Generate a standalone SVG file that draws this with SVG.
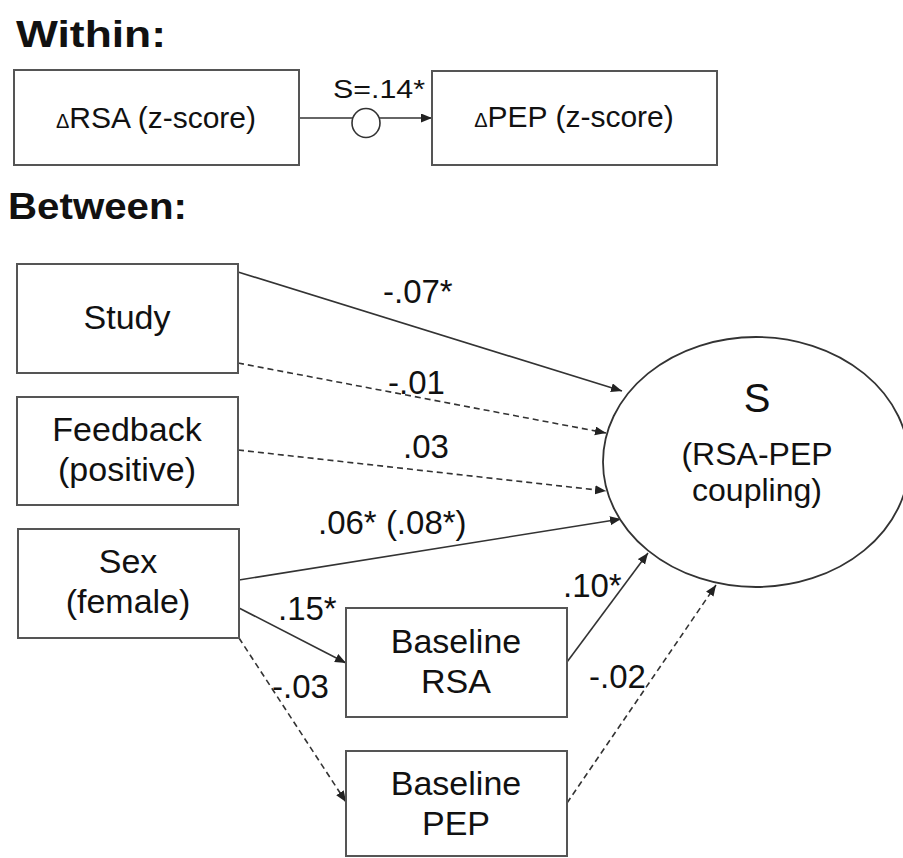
<svg xmlns="http://www.w3.org/2000/svg" width="903" height="858" viewBox="0 0 903 858">
<style>
text{font-family:"Liberation Sans",Arial,sans-serif;fill:#111;}
.title{font-weight:bold;font-size:36px;}
.box{fill:#fff;stroke:#555;stroke-width:2;}
.lbl{font-size:34px;text-anchor:middle;}
.elab{font-size:33px;}
.conn{stroke:#333;stroke-width:1.6;fill:none;marker-end:url(#ah);}
.dash{stroke-dasharray:6 4;}
</style>
<defs>
<marker id="ah" markerUnits="userSpaceOnUse" markerWidth="12" markerHeight="10" refX="11" refY="4.5" orient="auto">
<path d="M0,0 L11,4.5 L0,9 z" fill="#222"/>
</marker>
</defs>
<rect width="903" height="858" fill="#fff"/>
<text class="title" x="16" y="47" textLength="150" lengthAdjust="spacingAndGlyphs">Within:</text>
<text class="title" x="8" y="219" textLength="179" lengthAdjust="spacingAndGlyphs">Between:</text>

<g id="connectors">
<line class="conn" x1="299" y1="118" x2="432" y2="118"/>
<ellipse cx="366" cy="123" rx="14" ry="14.5" fill="#fff" stroke="#333" stroke-width="1.6"/>
<text x="333" y="98" font-size="25" textLength="92" lengthAdjust="spacingAndGlyphs">S=.14*</text>
<line class="conn" x1="238" y1="272" x2="622" y2="391"/>
<line class="conn dash" x1="238" y1="363" x2="606" y2="433"/>
<line class="conn dash" x1="238" y1="450" x2="606" y2="491"/>
<line class="conn" x1="239" y1="580" x2="621" y2="519"/>
<line class="conn" x1="239" y1="608" x2="346" y2="663"/>
<line class="conn dash" x1="239" y1="638" x2="346" y2="802"/>
<line class="conn" x1="567" y1="662" x2="648" y2="553"/>
<line class="conn dash" x1="567" y1="803" x2="716" y2="585"/>
<text class="elab" x="383" y="303">-.07*</text>
<text class="elab" x="388" y="394">-.01</text>
<text class="elab" x="403" y="458">.03</text>
<text class="elab" x="318" y="534">.06* (.08*)</text>
<text class="elab" x="278" y="620">.15*</text>
<text class="elab" x="272" y="698">-.03</text>
<text class="elab" x="563" y="597">.10*</text>
<text class="elab" x="589" y="688">-.02</text>
</g>

<g id="drsa">
<rect class="box" x="14" y="70" width="285" height="95"/>
<text x="156" y="128" font-size="30" text-anchor="middle"><tspan font-size="20">Δ</tspan>RSA (z-score)</text>
</g>
<g id="dpep">
<rect class="box" x="432" y="71" width="285" height="94"/>
<text x="574" y="127" font-size="30" text-anchor="middle"><tspan font-size="20">Δ</tspan>PEP (z-score)</text>
</g>
<g id="study">
<rect class="box" x="17" y="264" width="221" height="109"/>
<text class="lbl" x="127" y="329">Study</text>
</g>
<g id="feedback">
<rect class="box" x="17" y="397" width="221" height="108"/>
<text class="lbl" x="127" y="441">Feedback</text>
<text class="lbl" x="127" y="481">(positive)</text>
</g>
<g id="sex">
<rect class="box" x="18" y="529" width="221" height="109"/>
<text class="lbl" x="128" y="573">Sex</text>
<text class="lbl" x="128" y="613">(female)</text>
</g>
<g id="baseline-rsa">
<rect class="box" x="346" y="608" width="221" height="109"/>
<text class="lbl" x="456" y="653">Baseline</text>
<text class="lbl" x="456" y="693">RSA</text>
</g>
<g id="baseline-pep">
<rect class="box" x="346" y="751" width="221" height="105"/>
<text class="lbl" x="456" y="795">Baseline</text>
<text class="lbl" x="456" y="835">PEP</text>
</g>
<g id="s-coupling">
<ellipse cx="756" cy="462" rx="153" ry="125" fill="#fff" stroke="#333" stroke-width="1.8"/>
<text x="757" y="412" font-size="40" text-anchor="middle">S</text>
<text x="757" y="465" font-size="32" text-anchor="middle">(RSA-PEP</text>
<text x="757" y="501" font-size="32" text-anchor="middle">coupling)</text>
</g>
</svg>
